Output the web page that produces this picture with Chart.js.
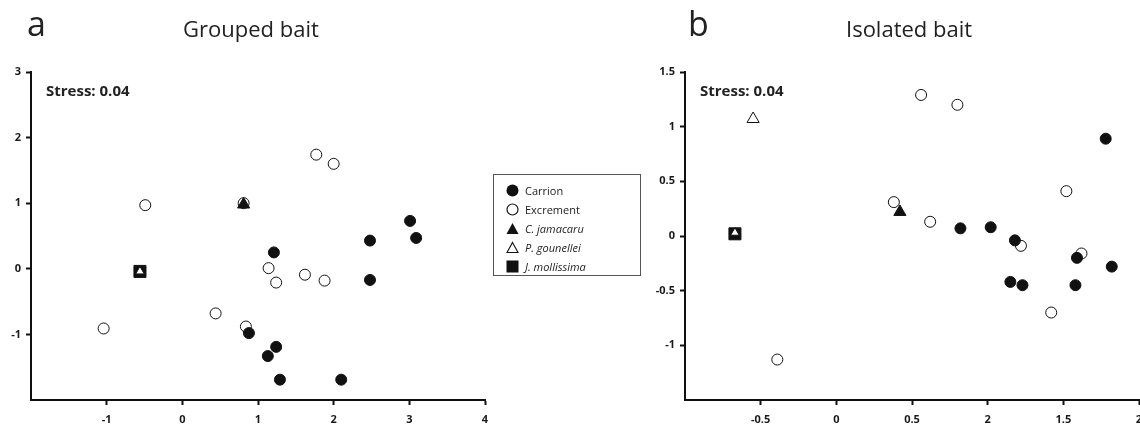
<!DOCTYPE html>
<html><head><meta charset="utf-8">
<script src="https://cdn.jsdelivr.net/npm/chart.js@4.4.0/dist/chart.umd.min.js"></script>
<style>
html,body{margin:0;padding:0;background:#fff;overflow:hidden;width:1140px;height:424px;}
body{position:relative;font-family:'Open Sans',sans-serif;color:#222;}
canvas{position:absolute;top:0;}
.t{position:absolute;white-space:nowrap;line-height:1;}
.lg{position:absolute;left:493px;top:174px;width:148px;height:102px;border:1px solid #555;box-sizing:border-box;}
.row{position:absolute;left:0;height:19px;display:flex;align-items:center;font-size:11px;color:#222;}
.row svg{margin-left:12px;margin-right:6px;}
</style></head><body>
<canvas id="ca" width="500" height="424" style="left:0"></canvas>
<canvas id="cb" width="520" height="424" style="left:640px"></canvas>

<div class="t" style="left:27px;top:6px;font-size:34px">a</div>
<div class="t" style="left:183px;top:17px;font-size:22px">Grouped bait</div>
<div class="t" style="left:46px;top:83px;font-size:15px;font-weight:bold">Stress: 0.04</div>

<div class="t" style="left:688px;top:6px;font-size:34px">b</div>
<div class="t" style="left:846px;top:17px;font-size:22px">Isolated bait</div>
<div class="t" style="left:700px;top:83px;font-size:15px;font-weight:bold">Stress: 0.04</div>

<div class="lg">
  <div class="row" style="top:6px"><svg width="13" height="13"><circle cx="6.5" cy="6.5" r="6" fill="#111"/></svg><span>Carrion</span></div>
  <div class="row" style="top:25px"><svg width="13" height="13"><circle cx="6.5" cy="6.5" r="5.5" fill="#fff" stroke="#111" stroke-width="1.2"/></svg><span>Excrement</span></div>
  <div class="row" style="top:44px"><svg width="13" height="13"><polygon points="6.5,1 12.5,12 0.5,12" fill="#111"/></svg><span><i>C. jamacaru</i></span></div>
  <div class="row" style="top:63px"><svg width="13" height="13"><polygon points="6.5,1.5 12,11.5 1,11.5" fill="#fff" stroke="#111" stroke-width="1.1"/></svg><span><i>P. gounellei</i></span></div>
  <div class="row" style="top:82px"><svg width="13" height="13"><rect x="0.5" y="0.5" width="12" height="12" fill="#111"/></svg><span><i>J. mollissima</i></span></div>
</div>

<script>
// ---- Panel a: Grouped bait ----
const carrionA = [[3.01,0.73],[3.09,0.47],[2.48,0.43],[2.48,-0.17],[1.21,0.25],[0.88,-0.98],[1.24,-1.19],[1.13,-1.33],[1.29,-1.69],[2.10,-1.69]];
const excrementA = [[1.77,1.74],[2.00,1.60],[-0.49,0.97],[0.81,1.00],[1.14,0.01],[1.24,-0.21],[1.62,-0.09],[1.88,-0.18],[0.44,-0.68],[0.84,-0.88],[-1.04,-0.91]];
const cJamacaruA = [[0.81,0.98]];
const pGounelleiA = [[-0.56,-0.04]];
const jMollissimaA = [[-0.56,-0.04]];
const xTicksA = [-1,0,1,2,3,4];
const xTickLabelsA = ['-1','0','1','2','3','4'];
const yTicksA = [-1,0,1,2,3];
const yTickLabelsA = ['-1','0','1','2','3'];

// ---- Panel b: Isolated bait ----
const carrionB = [[1.78,0.89],[0.82,0.07],[1.02,0.08],[1.18,-0.04],[1.59,-0.20],[1.82,-0.28],[1.15,-0.42],[1.23,-0.45],[1.58,-0.45]];
const excrementB = [[0.56,1.29],[0.80,1.20],[1.52,0.41],[0.38,0.31],[0.62,0.13],[1.22,-0.09],[1.62,-0.16],[1.42,-0.70],[-0.39,-1.13]];
const cJamacaruB = [[0.42,0.22]];
const pGounelleiB = [[-0.55,1.07],[-0.67,0.03]];
const jMollissimaB = [[-0.67,0.02]];
const xTicksB = [-0.5,0,0.5,1,1.5,2];
const xTickLabelsB = ['-0.5','0','0.5','2','1.5','2'];
const yTicksB = [-1,-0.5,0,0.5,1,1.5];
const yTickLabelsB = ['-1','-0.5','0','0.5','1','1.5'];

Chart.defaults.font.family = "'Open Sans', sans-serif";

const INK = '#111';
function ds(label, pts, style, fill, radius, order) {
  return {
    label, data: pts.map(p => ({x: p[0], y: p[1]})),
    pointStyle: style, pointRadius: radius, pointHoverRadius: radius,
    pointBackgroundColor: fill, pointBorderColor: INK, pointBorderWidth: 1,
    showLine: false, order
  };
}

function axis(min, max, ticks, labels, fitFn, pad) {
  return {
    type: 'linear', min, max,
    afterBuildTicks: s => { s.ticks = ticks.map(v => ({value: v})); },
    afterFit: fitFn,
    ticks: {
      callback: (v, i) => labels[i],
      font: {size: 11, weight: 'bold'}, color: '#1a1a1a', padding: pad,
      autoSkip: false, maxRotation: 0
    },
    grid: {display: true, drawOnChartArea: false, drawTicks: true, tickLength: 5, tickWidth: 2, tickColor: INK},
    border: {display: true, color: INK, width: 2}
  };
}

function makeChart(id, datasets, xr, yr, xt, xl, yt, yl, yWidth, padRight) {
  new Chart(document.getElementById(id), {
    type: 'scatter',
    data: {datasets},
    options: {
      responsive: false, animation: false, devicePixelRatio: 1,
      layout: {padding: {top: 72, bottom: 0, left: 0, right: padRight}},
      plugins: {legend: {display: false}, tooltip: {enabled: false}},
      scales: {
        x: axis(xr[0], xr[1], xt, xl, s => { s.height = 24; }, 8),
        y: axis(yr[0], yr[1], yt, yl, s => { s.width = yWidth; }, 5)
      }
    }
  });
}

makeChart('ca', [
  ds('Carrion', carrionA, 'circle', INK, 5.5, 3),
  ds('Excrement', excrementA, 'circle', '#fff', 5.5, 4),
  ds('C. jamacaru', cJamacaruA, 'triangle', INK, 7, 2),
  ds('P. gounellei', pGounelleiA, 'triangle', '#fff', [5], 1),
  ds('J. mollissima', jMollissimaA, 'rect', INK, 8.5, 5)
], [-2, 4], [-2, 3], xTicksA, xTickLabelsA, yTicksA, yTickLabelsA, 31, 15);

makeChart('cb', [
  ds('Carrion', carrionB, 'circle', INK, 5.5, 3),
  ds('Excrement', excrementB, 'circle', '#fff', 5.5, 4),
  ds('C. jamacaru', cJamacaruB, 'triangle', INK, 7, 2),
  ds('P. gounellei', pGounelleiB, 'triangle', '#fff', [7, 5], 1),
  ds('J. mollissima', jMollissimaB, 'rect', INK, 8.5, 5)
], [-1, 2], [-1.5, 1.5], xTicksB, xTickLabelsB, yTicksB, yTickLabelsB, 45, 21);
</script>
</body></html>
